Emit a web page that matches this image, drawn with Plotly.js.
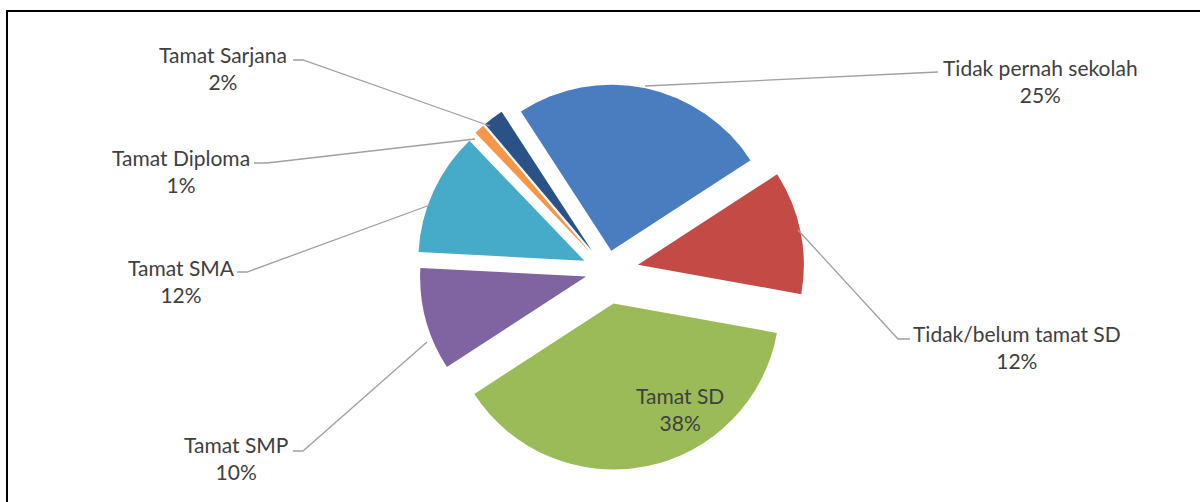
<!DOCTYPE html>
<html>
<head>
<meta charset="utf-8">
<script src="https://cdn.plot.ly/plotly-3.0.1.min.js"></script>
<style>
  html, body { margin: 0; padding: 0; background: #ffffff; }
  #chart { width: 1200px; height: 502px; }
</style>
</head>
<body>
<div id="chart"></div>
<script>
// ---- Data ----
var categories = [
  "Tidak pernah sekolah",
  "Tidak/belum tamat SD",
  "Tamat SD",
  "Tamat SMP",
  "Tamat SMA",
  "Tamat Diploma",
  "Tamat Sarjana"
];
var percentValues = [25, 12, 38, 10, 12, 1, 2];

// ---- Styling ----
var sliceColors = ["#4a7dbf", "#c44b45", "#9bbb59", "#8064a2", "#45abc8", "#f79646", "#2b5286"];
var slicePull = [0.125, 0.19, 0.2, 0.13, 0.15, 0.15, 0.15];

var W = 1200, H = 502;
function px(x) { return x / W; }
function py(y) { return 1 - y / H; }

var labelCentres = [
  [1040, 81], [1017, 347], [680, 409], [236, 458], [181, 281], [181, 171], [223, 68]
];
var leaderPaths = [
  [[645, 86], [938, 72]],
  [[798, 230], [898, 339], [910, 339]],
  null,
  [[427, 342], [303, 451], [293, 451]],
  [[430, 205], [247, 272], [237, 272]],
  [[475, 139], [267, 163], [254, 163]],
  [[490, 126], [303, 60], [293, 60]]
];

var fontFam = "Lato, 'Open Sans', sans-serif";
var textColor = "#404040";

var annotations = categories.map(function (c, i) {
  return {
    xref: "paper", yref: "paper",
    x: px(labelCentres[i][0]), y: py(labelCentres[i][1]),
    xanchor: "center", yanchor: "middle",
    text: c + "<br>" + percentValues[i] + "%",
    showarrow: false,
    align: "center",
    font: { family: fontFam, size: 21, color: textColor }
  };
});

var shapes = [];
leaderPaths.forEach(function (p) {
  if (!p) return;
  var d = p.map(function (pt, k) {
    return (k === 0 ? "M" : "L") + px(pt[0]).toFixed(5) + "," + py(pt[1]).toFixed(5);
  }).join(" ");
  shapes.push({
    type: "path", xref: "paper", yref: "paper", path: d,
    line: { color: "#a0a0a0", width: 1.3 }
  });
});
// chart frame (left and top edges visible)
shapes.push({
  type: "path", xref: "paper", yref: "paper",
  path: "M" + px(7) + "," + py(520) + " L" + px(7) + "," + py(11) + " L" + px(1210) + "," + py(11),
  line: { color: "#000000", width: 2 }
});

var trace = {
  type: "pie",
  labels: categories,
  values: percentValues,
  sort: false,
  direction: "clockwise",
  rotation: -33,
  pull: slicePull,
  marker: { colors: sliceColors, line: { width: 0 } },
  textinfo: "none",
  hoverinfo: "label+percent",
  showlegend: false,
  domain: { x: [0.3398, 0.6718], y: [0.0633, 0.857] }
};

var layout = {
  width: W, height: H,
  margin: { l: 0, r: 0, t: 0, b: 0 },
  paper_bgcolor: "#ffffff",
  plot_bgcolor: "#ffffff",
  showlegend: false,
  annotations: annotations,
  shapes: shapes
};

Plotly.newPlot("chart", [trace], layout, { displayModeBar: false, staticPlot: true });
</script>
</body>
</html>
